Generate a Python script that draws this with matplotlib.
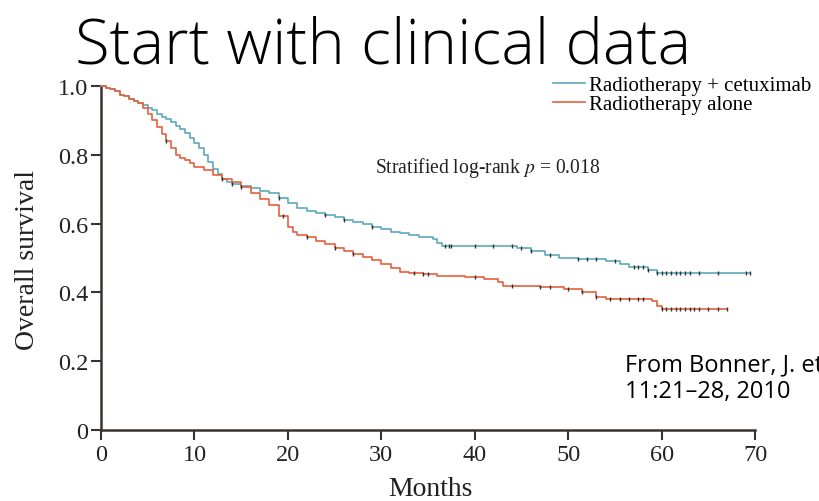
import numpy as np
import matplotlib
matplotlib.use("Agg")
import matplotlib.pyplot as plt

# Kaplan-Meier knots (months, survival)
cetux_t = [0, 0.5, 1, 1.5, 2, 2.5, 3, 3.5, 4, 4.5, 5, 5.5, 6, 6.5, 7, 7.5, 8, 8.5,
           9, 9.5, 10, 10.5, 11, 11.5, 12, 12.5, 13, 13.5, 14, 15, 16, 17, 18, 19,
           20, 21, 22, 23, 24, 25, 26, 27, 28, 29, 30, 31, 32, 33, 34, 35.5, 36,
           36.5, 44.5, 46, 47.5, 49, 51, 54, 55.5, 56.5, 58.5, 59.5, 69.5]
cetux_s = [1.0, 0.995, 0.99, 0.985, 0.975, 0.97, 0.962, 0.957, 0.95, 0.945, 0.935,
           0.93, 0.92, 0.91, 0.905, 0.895, 0.885, 0.875, 0.862, 0.85, 0.835, 0.82,
           0.80, 0.78, 0.76, 0.745, 0.73, 0.722, 0.716, 0.71, 0.703, 0.695, 0.688,
           0.675, 0.66, 0.645, 0.638, 0.632, 0.625, 0.618, 0.61, 0.604, 0.598, 0.59,
           0.583, 0.576, 0.572, 0.566, 0.562, 0.555, 0.545, 0.535, 0.528, 0.52,
           0.51, 0.50, 0.497, 0.49, 0.483, 0.474, 0.466, 0.455, 0.455]

alone_t = [0, 0.5, 1, 1.5, 2, 2.5, 3, 3.5, 4, 4.5, 5, 5.5, 6, 6.5, 7, 7.5, 8, 8.5,
           9, 9.5, 10, 11, 12, 13, 14, 15, 16, 17, 18, 19, 20, 20.5, 21, 22, 23,
           24, 25, 26, 27, 28, 29, 30, 31, 32, 33, 34.5, 36, 39, 41, 42.5, 43, 47,
           49.5, 51.5, 53, 54, 59, 59.5, 60, 67]
alone_s = [1.0, 0.995, 0.99, 0.985, 0.975, 0.97, 0.962, 0.957, 0.95, 0.935, 0.92,
           0.90, 0.88, 0.86, 0.84, 0.82, 0.80, 0.79, 0.785, 0.775, 0.765, 0.755,
           0.742, 0.73, 0.72, 0.705, 0.69, 0.672, 0.655, 0.622, 0.59, 0.575,
           0.568, 0.56, 0.55, 0.54, 0.53, 0.52, 0.512, 0.503, 0.495, 0.482, 0.47,
           0.46, 0.457, 0.453, 0.448, 0.445, 0.44, 0.43, 0.42, 0.416, 0.41, 0.40,
           0.387, 0.382, 0.375, 0.36, 0.352, 0.352]

# censoring times
cetux_cens = [14, 19, 24, 26, 29, 36.8, 37.2, 37.5, 40, 42, 44, 45, 46, 48, 51,
              52, 53, 55, 57, 57.5, 58, 58.5, 59.5, 60, 60.5, 61, 61.5, 62, 62.5,
              63, 64, 66, 69, 69.5]
alone_cens = [7, 13, 15, 19.5, 22, 25, 27, 33.5, 34.5, 35, 40, 44, 47, 48, 50,
              51.5, 53, 54.5, 55.5, 56.5, 57.5, 58, 60, 60.5, 61, 61.5, 62, 62.5,
              63, 63.5, 64, 65, 66, 67]

labels = ["Radiotherapy + cetuximab", "Radiotherapy alone"]
colors = ["#5fa8bd", "#e5603e"]

plt.rcParams["font.family"] = ["Liberation Serif", "DejaVu Serif"]
plt.rcParams["mathtext.fontset"] = "stix"

fig = plt.figure(figsize=(8.2, 5.02), dpi=100)
ax = fig.add_axes([0.1232, 0.1414, 0.7976, 0.6853])

ink = "#3a3330"
txt = "#222222"


def step_at(t, knots_t, knots_s):
    i = np.searchsorted(knots_t, t, side="right") - 1
    return np.asarray(knots_s)[i]


for kt, ks, cens, col, lab in [(cetux_t, cetux_s, cetux_cens, colors[0], labels[0]),
                               (alone_t, alone_s, alone_cens, colors[1], labels[1])]:
    ax.plot(kt, ks, drawstyle="steps-post", color=col, lw=1.2, label=lab,
            clip_on=False, zorder=3)
    cy = step_at(np.array(cens), kt, ks)
    ax.plot(cens, cy, ls="none", marker="|", ms=3.5, mew=1.0, color="#333333",
            clip_on=False, zorder=4)

ax.set_xlim(0, 70)
ax.set_ylim(0, 1.0)
ax.set_xticks([0, 10, 20, 30, 40, 50, 60, 70])
ax.set_yticks([0, 0.2, 0.4, 0.6, 0.8, 1.0])
ax.set_yticklabels(["0", "0.2", "0.4", "0.6", "0.8", "1.0"])
for side in ["top", "right"]:
    ax.spines[side].set_visible(False)
for side in ["left", "bottom"]:
    ax.spines[side].set_color(ink)
    ax.spines[side].set_linewidth(1.8)
ax.tick_params(direction="out", length=7, width=1.5, color=ink,
               labelsize=17.5, labelcolor=txt)
ax.tick_params(axis="y", pad=2)
ax.tick_params(axis="x", pad=3)
ax.set_xlabel("Months", fontsize=20, color=txt)
ax.set_ylabel("Overall survival", fontsize=20, color=txt)
ax.xaxis.set_label_coords(0.503, -0.135)
ax.yaxis.set_label_coords(-0.093, 0.497)

ax.legend(loc="upper left", bbox_to_anchor=(0.674, 0.848),
          bbox_transform=fig.transFigure, frameon=False, fontsize=15,
          handlelength=1.55, handletextpad=0.2, borderpad=0, borderaxespad=0,
          labelspacing=0.0)

fig.text(0.457, 0.666, "Stratified log-rank $p$ = 0.018", fontsize=14.1,
         color=txt, va="center", ha="left")

sans = ["Open Sans", "DejaVu Sans"]
fig.text(0.091, 0.874, "Start with clinical data", fontsize=45.5,
         family=sans, fontweight=300, color="black", ha="left", va="baseline")
# source note runs off the right edge of the slide, as in the original
fig.text(0.762, 0.261, "From Bonner, J. et al.", fontsize=17,
         family=sans, color="black", ha="left", va="baseline")
fig.text(0.762, 0.207, "11:21\u201328, 2010", fontsize=17,
         family=sans, color="black", ha="left", va="baseline")

fig.savefig("out.png", dpi=100)
